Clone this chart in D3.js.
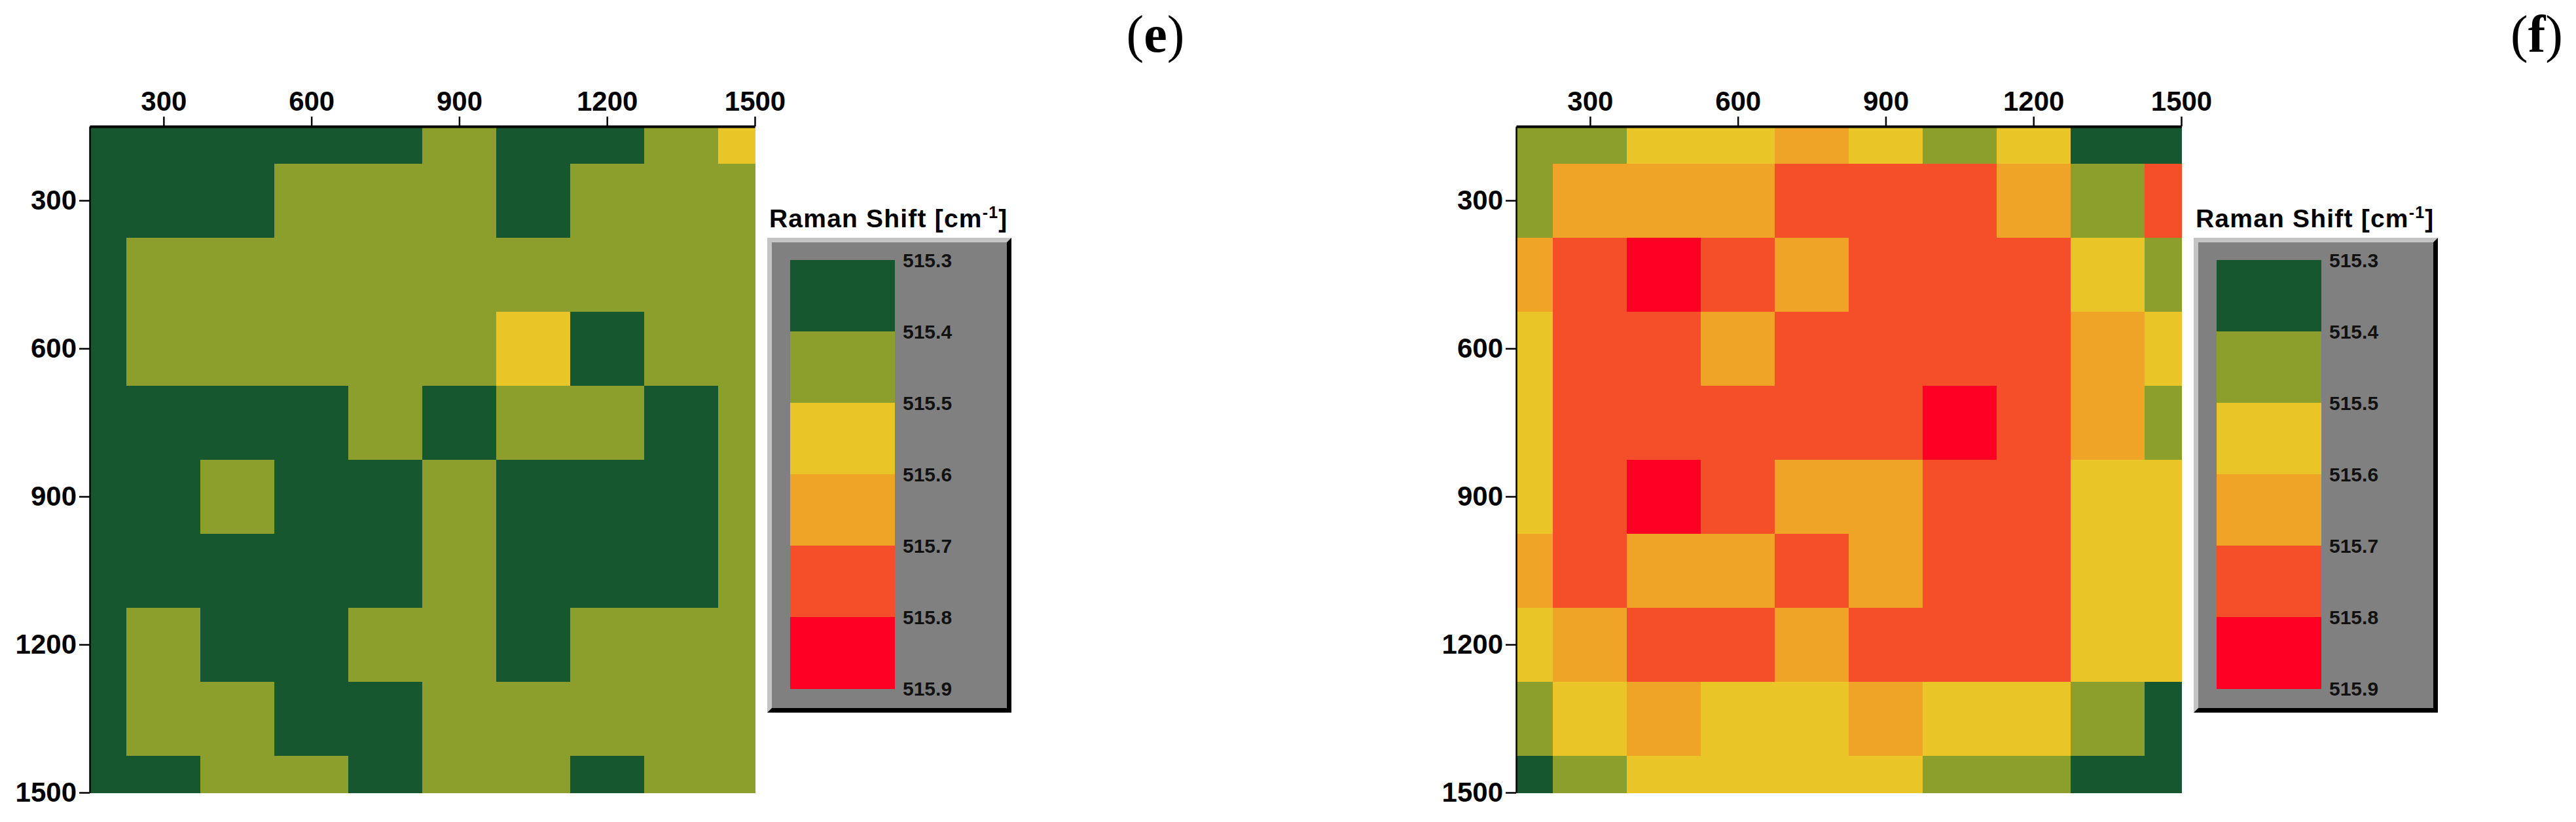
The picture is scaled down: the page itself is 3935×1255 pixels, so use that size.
<!DOCTYPE html>
<html>
<head>
<meta charset="utf-8">
<script src="https://cdn.jsdelivr.net/npm/d3@7"></script>
<style>
    body { margin: 0; background: #fff; }
    text { font-family: "Liberation Sans", Arial, sans-serif; }
    rect.cell, rect.band { shape-rendering: crispEdges; }
</style>
</head>
<body>
<script>
// grid positions (um), both axes
const positions = [150, 300, 450, 600, 750, 900, 1050, 1200, 1350, 1500];
const majorTicks = [300, 600, 900, 1200, 1500];
const minorTicks = [150, 450, 750, 1050, 1350];

// legend classes, Raman shift in cm-1
const legendBreaks = [515.3, 515.4, 515.5, 515.6, 515.7, 515.8, 515.9];
const legendColors = ["#17572f", "#8c9e2c", "#e9c528", "#efa427", "#f54f29", "#fe0024"];

// map (e), rows top to bottom
const shiftE = [
    [515.35, 515.35, 515.35, 515.35, 515.35, 515.45, 515.35, 515.35, 515.45, 515.55],
    [515.35, 515.35, 515.35, 515.45, 515.45, 515.45, 515.35, 515.45, 515.45, 515.45],
    [515.35, 515.45, 515.45, 515.45, 515.45, 515.45, 515.45, 515.45, 515.45, 515.45],
    [515.35, 515.45, 515.45, 515.45, 515.45, 515.45, 515.55, 515.35, 515.45, 515.45],
    [515.35, 515.35, 515.35, 515.35, 515.45, 515.35, 515.45, 515.45, 515.35, 515.45],
    [515.35, 515.35, 515.45, 515.35, 515.35, 515.45, 515.35, 515.35, 515.35, 515.45],
    [515.35, 515.35, 515.35, 515.35, 515.35, 515.45, 515.35, 515.35, 515.35, 515.45],
    [515.35, 515.45, 515.35, 515.35, 515.45, 515.45, 515.35, 515.45, 515.45, 515.45],
    [515.35, 515.45, 515.45, 515.35, 515.35, 515.45, 515.45, 515.45, 515.45, 515.45],
    [515.35, 515.35, 515.45, 515.45, 515.35, 515.45, 515.45, 515.35, 515.45, 515.45]
];

// map (f), rows top to bottom
const shiftF = [
    [515.45, 515.45, 515.55, 515.55, 515.65, 515.55, 515.45, 515.55, 515.35, 515.35],
    [515.45, 515.65, 515.65, 515.65, 515.75, 515.75, 515.75, 515.65, 515.45, 515.75],
    [515.65, 515.75, 515.85, 515.75, 515.65, 515.75, 515.75, 515.75, 515.55, 515.45],
    [515.55, 515.75, 515.75, 515.65, 515.75, 515.75, 515.75, 515.75, 515.65, 515.55],
    [515.55, 515.75, 515.75, 515.75, 515.75, 515.75, 515.85, 515.75, 515.65, 515.45],
    [515.55, 515.75, 515.85, 515.75, 515.65, 515.65, 515.75, 515.75, 515.55, 515.55],
    [515.65, 515.75, 515.65, 515.65, 515.75, 515.65, 515.75, 515.75, 515.55, 515.55],
    [515.55, 515.65, 515.75, 515.75, 515.65, 515.75, 515.75, 515.75, 515.55, 515.55],
    [515.45, 515.55, 515.65, 515.55, 515.55, 515.65, 515.55, 515.55, 515.45, 515.35],
    [515.35, 515.45, 515.55, 515.55, 515.55, 515.55, 515.45, 515.45, 515.35, 515.35]
];

const width = 3935;
const height = 1255;
const plotTop = 193;
const plotSize = 1016;
const step = 150;

var svg = d3.select("body").append("svg")
    .attr("width", width)
    .attr("height", height);

var color = d3.scaleThreshold()
    .domain(legendBreaks.slice(1, -1))
    .range(legendColors);

function drawPanel(values, left, label, labelX) {
    var x = d3.scaleLinear().domain([150, 1500]).range([left, left + plotSize]);
    var y = d3.scaleLinear().domain([150, 1500]).range([plotTop, plotTop + plotSize + 1]);
    var lo = x.domain()[0], hi = x.domain()[1];

    let cells = [];
    values.forEach(function(row, i) {
        row.forEach(function(v, j) {
            cells.push({ x: positions[j], y: positions[i], value: v });
        });
    });

    var g = svg.append("g");

    g.selectAll("rect.cell")
        .data(cells)
        .enter().append("rect")
        .attr("class", "cell")
        .attr("x", d => x(Math.max(lo, d.x - step / 2)))
        .attr("y", d => y(Math.max(lo, d.y - step / 2)))
        .attr("width", d => x(Math.min(hi, d.x + step / 2)) - x(Math.max(lo, d.x - step / 2)) + 1)
        .attr("height", d => y(Math.min(hi, d.y + step / 2)) - y(Math.max(lo, d.y - step / 2)) + 1)
        .attr("fill", d => color(d.value));

    // top axis
    var top = g.append("g").attr("transform", "translate(0," + plotTop + ")");
    top.call(d3.axisTop(x).tickValues(minorTicks).tickSize(7).tickSizeOuter(0).tickFormat(""));
    top.call(d3.axisTop(x).tickValues(majorTicks).tickSize(15).tickSizeOuter(0).tickPadding(9).tickFormat(d3.format("d")));
    top.selectAll(".domain").attr("stroke-width", 4);

    // left axis
    var side = g.append("g").attr("transform", "translate(" + left + ",0)");
    side.call(d3.axisLeft(y).tickValues(minorTicks).tickSize(7).tickSizeOuter(0).tickFormat(""));
    side.call(d3.axisLeft(y).tickValues(majorTicks).tickSize(16).tickSizeOuter(0).tickPadding(4).tickFormat(d3.format("d")));
    side.selectAll(".domain").attr("stroke-width", 2.5);

    g.selectAll(".tick line").attr("stroke", "#000").attr("stroke-width", 2.5);
    g.selectAll(".tick text")
        .attr("fill", "#000")
        .style("font-size", "42px")
        .style("font-weight", "bold")
        .style("font-family", "'Liberation Sans', Arial, sans-serif");

    drawLegend(g, left + plotSize + 19);

    g.append("text")
        .attr("x", labelX)
        .attr("y", 79)
        .attr("text-anchor", "middle")
        .style("font-family", "'Liberation Serif', 'Times New Roman', serif")
        .style("font-size", "80px")
        .text("(")
        .append("tspan").style("font-weight", "bold").text(label)
        .select(function() { return this.parentNode; })
        .append("tspan").text(")");
}

function drawLegend(g, L) {
    let T = 363, w = 373, h = 725, b = 7;
    let R = L + w, B = T + h;

    var legend = g.append("g").attr("class", "legend");

    legend.append("text")
        .attr("x", L + 3)
        .attr("y", 347)
        .style("font-size", "39px")
        .style("font-weight", "bold")
        .style("letter-spacing", "1.2px")
        .text("Raman Shift [cm")
        .append("tspan").attr("dy", -14).style("font-size", "25px").text("-1")
        .select(function() { return this.parentNode; })
        .append("tspan").attr("dy", 14).text("]");

    // bevelled frame
    legend.append("rect").attr("x", L).attr("y", T).attr("width", w).attr("height", h).attr("fill", "#000");
    legend.append("polygon")
        .attr("points", [[L, T], [R, T], [R - b, T + b], [L + b, T + b], [L + b, B - b], [L, B]].join(" "))
        .attr("fill", "#c4c4c4");
    legend.append("rect")
        .attr("x", L + b).attr("y", T + b)
        .attr("width", w - 2 * b).attr("height", h - 2 * b)
        .attr("fill", "#808080");

    var ly = d3.scaleLinear().domain([515.3, 515.9]).range([397, 1051]);

    legend.selectAll("rect.band")
        .data(legendColors)
        .enter().append("rect")
        .attr("class", "band")
        .attr("x", L + 35)
        .attr("width", 160)
        .attr("y", (c, i) => ly(legendBreaks[i]))
        .attr("height", (c, i) => ly(legendBreaks[i + 1]) - ly(legendBreaks[i]) + 0.5)
        .attr("fill", c => c);

    legend.selectAll("text.lab")
        .data(legendBreaks)
        .enter().append("text")
        .attr("class", "lab")
        .attr("x", L + 207)
        .attr("y", d => ly(d))
        .attr("dy", "0.36em")
        .style("font-size", "30px")
        .style("font-weight", "bold")
        .attr("fill", "#111")
        .text(d => d3.format(".1f")(d));
}

drawPanel(shiftE, 137, "e", 1765);
drawPanel(shiftF, 2316, "f", 3875);
</script>
</body>
</html>
